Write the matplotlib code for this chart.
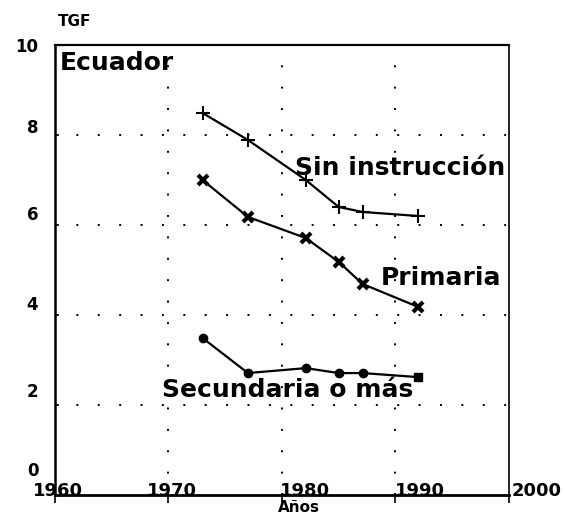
# -*- coding: utf-8 -*-
r"""
Ecuador: tasa global de fecundidad (TGF) segun nivel de instruccion.
"""

#%% Imports
import matplotlib
matplotlib.use('Agg')
import matplotlib.pyplot as plt
from matplotlib.transforms import ScaledTranslation

#%% Data
years = [1973.0, 1977.0, 1982.1, 1985.0, 1987.1, 1992.0]
sin_instruccion = [8.49, 7.89, 7.00, 6.40, 6.29, 6.20]
primaria = [7.00, 6.18, 5.71, 5.18, 4.69, 4.18]
secundaria = [3.49, 2.71, 2.82, 2.71, 2.71, 2.62]

x_ticks = [1960, 1970, 1980, 1990, 2000]
x_labels = ['1960', '1970', '1980', '1990', '2000']
y_ticks = [0, 2, 4, 6, 8, 10]
y_labels = ['0', '2', '4', '6', '8', '10']

#%% Style
FONT = 'DejaVu Sans'
LINE = dict(color='black', linewidth=1.6)
GRID = dict(color='black', linewidth=1.4, linestyle=(0, (1, 10)))

#%% Figure
fig = plt.figure(figsize=(5.65, 5.19), dpi=100)
ax = fig.add_axes([0.0973, 0.0462, 0.8035, 0.8671])
ax.set_xlim(1960, 2000)
ax.set_ylim(0, 10)

# dotted grid
for yv in [2, 4, 6, 8]:
    ax.axhline(yv, **GRID)
for xv in [1970, 1980, 1990]:
    ax.axvline(xv, **GRID)

# series
ax.plot(years, sin_instruccion, marker='+', markersize=10, markeredgewidth=1.5, **LINE)
ax.plot(years, primaria, marker='x', markersize=7, markeredgewidth=3, **LINE)
ax.plot(years, secundaria, marker='o', markersize=6, markevery=list(range(len(years) - 1)), **LINE)
ax.plot(years[-1:], secundaria[-1:], marker='s', markersize=6, color='black', linestyle='none')

# spines
ax.spines['left'].set_linewidth(1.8)
ax.spines['bottom'].set_linewidth(2.0)
ax.spines['top'].set_linewidth(1.6)
ax.spines['right'].set_linewidth(1.2)

# ticks
ax.set_xticks(x_ticks)
ax.set_xticklabels(x_labels, fontsize=13, fontweight='bold', family=FONT)
ax.set_yticks(y_ticks)
ax.set_yticklabels(y_labels, fontsize=12, fontweight='bold', family=FONT)
ax.tick_params(axis='x', direction='out', length=6, width=1.2, pad=0)
ax.tick_params(axis='y', direction='in', length=3, width=1.2, pad=12)

# shift tick labels like the original print (pixels)
x_shift = [3, 3, 23, 24, 28]
for (lab, dx) in zip(ax.get_xticklabels(), x_shift):
    lab.set_transform(lab.get_transform() + ScaledTranslation(dx / 100, 21 / 100, fig.dpi_scale_trans))
y_shift = [26, 15, 12, 12, 9, 0]
for (lab, dy) in zip(ax.get_yticklabels(), y_shift):
    lab.set_transform(lab.get_transform() + ScaledTranslation(0, dy / 100, fig.dpi_scale_trans))

# annotations
txt = dict(fontsize=18, fontweight='bold', family=FONT, color='black')
ax.text(1960.45, 9.6, 'Ecuador', ha='left', va='center', **txt)
ax.text(1990.4, 7.27, 'Sin instrucción', ha='center', va='center', **txt)
ax.text(1994.0, 4.82, 'Primaria', ha='center', va='center', **txt)
ax.text(1980.5, 2.33, 'Secundaria o más', ha='center', va='center', **txt)

fig.text(75 / 565, 1 - 22 / 519, 'TGF', ha='center', va='center', fontsize=11, fontweight='bold', family=FONT)
fig.text(299 / 565, 1 - 508 / 519, 'Años', ha='center', va='center', fontsize=11, fontweight='bold', family=FONT)

fig.savefig('out.png', dpi=100)
